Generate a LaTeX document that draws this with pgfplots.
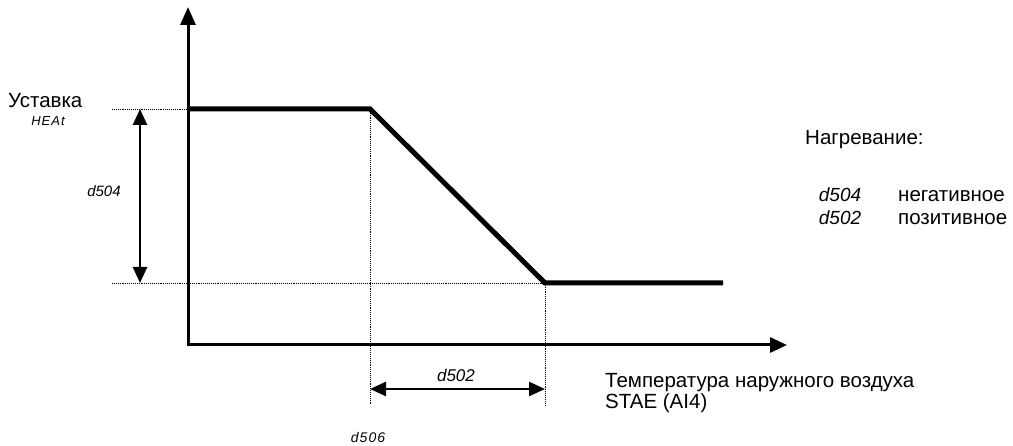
\documentclass[border=0pt]{standalone}
\usepackage{pgfplots}
\pgfplotsset{compat=1.18}
\usepackage{fontspec}
\setmainfont{Liberation Sans}
\newfontfamily\seg{Liberation Sans}
\newfontfamily\segw[LetterSpace=8]{Liberation Sans}
\usetikzlibrary{arrows.meta}
\begin{document}
\begin{tikzpicture}
\begin{axis}[
  scale only axis, width=1013pt, height=446pt,
  xmin=0, xmax=1013, ymin=0, ymax=446, y dir=reverse,
  axis lines=none, clip=false,
]
\path (rel axis cs:0,0) rectangle (rel axis cs:1,1);
% dotted guide lines
\addplot[black, line width=0.9pt, densely dotted] coordinates {(112,109) (188,109)};
\addplot[black, line width=0.9pt, densely dotted] coordinates {(112,283) (545,283)};
\addplot[black, line width=0.9pt, densely dotted] coordinates {(370,109) (370,405)};
\addplot[black, line width=0.9pt, densely dotted] coordinates {(545,283) (545,405)};
% axes
\addplot[black, line width=3pt, -{Triangle[length=18pt,width=15pt]}] coordinates {(188,345) (188,7)};
\addplot[black, line width=3pt, -{Triangle[length=17pt,width=15pt]}] coordinates {(187,345) (787,345)};
% characteristic
\addplot[black, line width=5pt, line join=miter] coordinates {(188,109) (370,109) (545,283) (723,283)};
% dimension arrows
\addplot[black, line width=2.5pt, {Triangle[length=16pt,width=14pt]}-{Triangle[length=16pt,width=14pt]}] coordinates {(140,109) (140,283)};
\addplot[black, line width=2.5pt, {Triangle[length=16pt,width=14pt]}-{Triangle[length=16pt,width=14pt]}] coordinates {(370,389) (545,389)};
% labels
\node[anchor=base west, inner sep=0pt, font=\fontsize{20.5}{20.5}\selectfont] at (axis cs:8,108) {Уставка};
\node[inner sep=0pt, font=\fontsize{13}{13}\segw\itshape] at (axis cs:48,121) {HEAt};
\node[inner sep=0pt, font=\fontsize{15}{15}\seg\itshape] at (axis cs:104,191) {d504};
\node[inner sep=0pt, font=\fontsize{17}{17}\seg\itshape] at (axis cs:456,375) {d502};
\node[inner sep=0pt, font=\fontsize{14}{14}\segw\itshape] at (axis cs:368,437) {d506};
\node[anchor=base west, inner sep=0pt, font=\fontsize{20.5}{20.5}\selectfont] at (axis cs:805,145) {Нагревание:};
\node[inner sep=0pt, font=\fontsize{19}{19}\seg\itshape] at (axis cs:840,195) {d504};
\node[inner sep=0pt, font=\fontsize{19}{19}\seg\itshape] at (axis cs:840,218) {d502};
\node[anchor=base west, inner sep=0pt, font=\fontsize{20.5}{20.5}\selectfont] at (axis cs:898,202) {негативное};
\node[anchor=base west, inner sep=0pt, font=\fontsize{20.5}{20.5}\selectfont] at (axis cs:898,225) {позитивное};
\node[anchor=base west, inner sep=0pt, font=\fontsize{20.5}{20.5}\selectfont] at (axis cs:605,388) {Температура наружного воздуха};
\node[anchor=base west, inner sep=0pt, font=\fontsize{20.5}{20.5}\selectfont] at (axis cs:605,409) {STAE (AI4)};
\end{axis}
\end{tikzpicture}
\end{document}
